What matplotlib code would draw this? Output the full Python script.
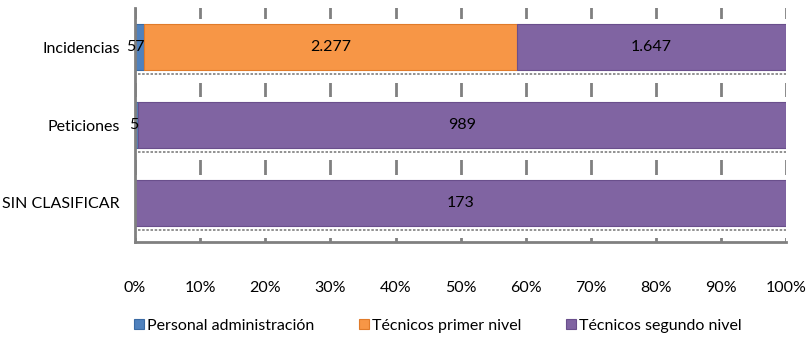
import matplotlib
matplotlib.use("Agg")
import matplotlib.pyplot as plt
from matplotlib.patches import Rectangle
import numpy as np

categories = ["Incidencias", "Peticiones", "SIN CLASIFICAR"]
series_names = ["Personal administración", "Técnicos primer nivel", "Técnicos segundo nivel"]
admin = [57, 5, 0]
primer = [2277, 0, 0]
segundo = [1647, 989, 173]
colors = ["#4F81BD", "#F79646", "#8064A2"]
edges = ["#3A6AA3", "#E07B2A", "#6A4F8C"]
tick_labels = ["0%", "10%", "20%", "30%", "40%", "50%", "60%", "70%", "80%", "90%", "100%"]

plt.rcParams["font.family"] = ["Lato", "DejaVu Sans"]
FS = 11.5

fig = plt.figure(figsize=(8.11, 3.37), dpi=100)
ax = fig.add_axes([0.1665, 0.282, 0.803, 0.694])

values = np.array([admin, primer, segundo], dtype=float)
totals = values.sum(axis=0)
shares = values / totals * 100
y = np.arange(len(categories))
bar_h = 0.59

# vertical gridlines behind everything
for t in np.arange(0, 101, 10):
    ax.axvline(t, color="#808080", lw=2, zorder=0)

# white bands so the gridlines only show between bars, plus dotted shadow
for yi in y:
    ax.add_patch(Rectangle((0, yi - bar_h / 2 - 0.065), 100, bar_h + 0.065 + 0.16,
                           facecolor="white", edgecolor="none", zorder=1))
    ax.plot([0.5, 100], [yi + bar_h / 2 + 0.05] * 2, color="#7f7f7f", lw=1.2,
            ls=(0, (1.5, 1)), zorder=2)

left = np.zeros(len(categories))
for i, name in enumerate(series_names):
    ax.barh(y, shares[i], left=left, height=bar_h, color=colors[i],
            edgecolor=edges[i], linewidth=0.8, label=name, zorder=3)
    for j in range(len(categories)):
        v = values[i][j]
        if v <= 0:
            continue
        txt = f"{int(v):,}".replace(",", ".")
        cx = left[j] + shares[i][j] / 2
        if shares[i][j] < 3:
            ax.text(left[j] + shares[i][j], y[j], txt, ha="right", va="center",
                    fontsize=FS, zorder=5)
        else:
            ax.text(cx, y[j], txt, ha="center", va="center", fontsize=FS, zorder=5)
    left += shares[i]

ax.set_xlim(0, 100)
ax.set_ylim(2.5, -0.5)
ax.set_yticks(y)
ax.set_yticklabels(categories, fontsize=FS)
ax.set_xticks(np.arange(0, 101, 10))
ax.set_xticklabels(tick_labels, fontsize=FS)
ax.tick_params(axis="x", length=0, pad=28)
ax.tick_params(axis="y", length=0, pad=11)
for s in ["top", "right"]:
    ax.spines[s].set_visible(False)
for s in ["left", "bottom"]:
    ax.spines[s].set_color("#808080")
    ax.spines[s].set_linewidth(2)
    ax.spines[s].set_zorder(4)

fig.legend(loc="lower center", bbox_to_anchor=(0.54, -0.03), ncol=3, frameon=False,
           fontsize=FS, handlelength=0.6, handleheight=0.6, handletextpad=0.2,
           columnspacing=2.8)

fig.savefig("out.png", dpi=100)
